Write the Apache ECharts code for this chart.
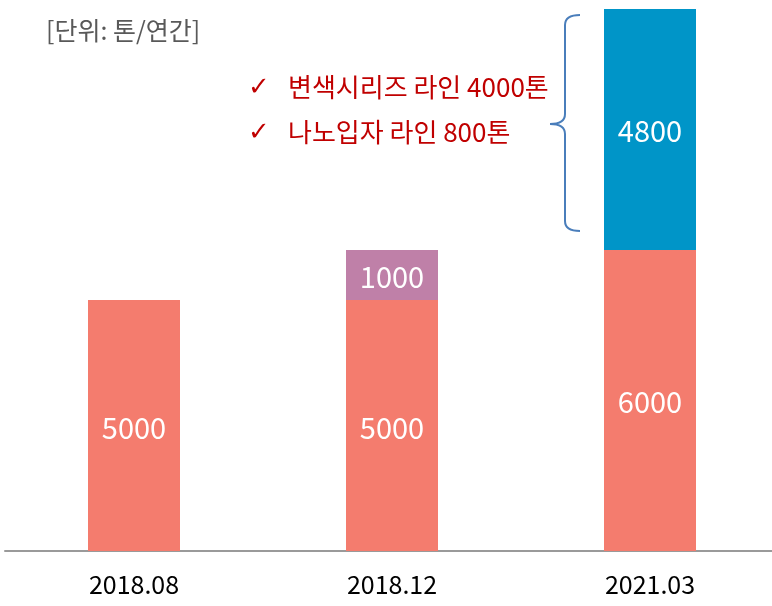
<!DOCTYPE html>
<html>
<head>
    <meta charset="utf-8">
    <script src="https://cdn.jsdelivr.net/npm/echarts@6/dist/echarts.min.js"></script>
    <style>
        body, html {
            margin: 0;
            height: 100%;
            background: #fff;
        }
        #main {
            width: 772px;
            height: 606px;
        }
    </style>
</head>
<body>
<div id="main"></div>

<script>
    // 데이터
    var categories = ['2018.08', '2018.12', '2021.03'];
    var baseLine = [5000, 5000, 6000];          // 기존 라인
    var addLine = ['-', 1000, 4800];            // 증설분
    var addColors = ['#BF80A8', '#BF80A8', '#0095C8'];
    var notes = ['변색시리즈 라인 4000톤', '나노입자 라인 800톤'];

    var kr = '"Noto Sans CJK KR", "Noto Sans", sans-serif';

    // 중괄호 (brace)
    var braceStyle = { stroke: '#4A7EBB', lineWidth: 2 };
    function curve(x1, y1, cx, cy, x2, y2) {
        return {
            type: 'bezierCurve',
            shape: { x1: x1, y1: y1, cpx1: cx, cpy1: cy, x2: x2, y2: y2 },
            style: braceStyle
        };
    }
    function seg(x1, y1, x2, y2) {
        return {
            type: 'line',
            shape: { x1: x1, y1: y1, x2: x2, y2: y2 },
            style: braceStyle
        };
    }
    function label(x, y, text, color, font) {
        return {
            type: 'text', x: x, y: y,
            style: { text: text, fill: color, font: font, verticalAlign: 'middle' }
        };
    }

    var barLabel = { show: true, position: 'inside', offset: [0, 2], color: '#fff', fontSize: 29, fontFamily: kr };

    var myChart = echarts.init(document.getElementById('main'));
    var option = {
        animation: false,
        grid: { left: 5, width: 774, top: 9, bottom: 55, outerBoundsMode: 'none', containLabel: false },
        xAxis: {
            type: 'category',
            data: categories,
            axisTick: { show: false },
            axisLine: { lineStyle: { color: '#9a9a9a', width: 2 } },
            axisLabel: { color: '#000', fontSize: 25, margin: 21, fontFamily: kr }
        },
        yAxis: {
            type: 'value',
            min: 0,
            max: 10800,
            show: false,
            splitLine: { show: false }
        },
        series: [
            {
                type: 'bar',
                stack: 'total',
                barWidth: 92,
                data: baseLine,
                itemStyle: { color: '#F47C6E' },
                label: barLabel
            },
            {
                type: 'bar',
                stack: 'total',
                barWidth: 92,
                data: addLine.map(function (v, i) {
                    return { value: v, itemStyle: { color: addColors[i] } };
                }),
                label: barLabel
            }
        ],
        graphic: [
            label(46, 30, '[단위: 톤/연간]', '#595959', '25px ' + kr),
            label(248, 88, '✓', '#C00000', 'bold 26px "DejaVu Sans"'),
            label(248, 133, '✓', '#C00000', 'bold 26px "DejaVu Sans"'),
            label(288, 87, notes[0], '#C00000', '26px ' + kr),
            label(288, 132, notes[1], '#C00000', '26px ' + kr),
            curve(580, 15, 565, 15, 565, 25),
            seg(565, 25, 565, 114),
            curve(565, 114, 565, 124, 550, 124),
            curve(550, 124, 565, 124, 565, 134),
            seg(565, 134, 565, 221),
            curve(565, 221, 565, 231, 580, 231)
        ]
    };
    myChart.setOption(option);
</script>
</body>
</html>
